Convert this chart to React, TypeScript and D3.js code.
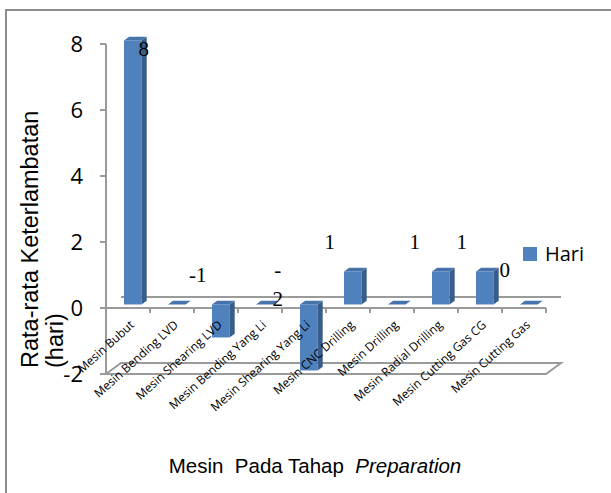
import React from "react";
import * as d3 from "d3";

// Average delay per machine in the preparation stage (days)
const categories = [
  "Mesin Bubut",
  "Mesin Bending LVD",
  "Mesin Shearing LVD",
  "Mesin Bending Yang Li",
  "Mesin Shearing Yang Li",
  "Mesin CNC Drilling",
  "Mesin Drilling",
  "Mesin Radial Drilling",
  "Mesin Cutting Gas CG",
  "Mesin Cutting Gas",
];
const values = [8, 0, -1, 0, -2, 1, 0, 1, 1, 0];
// Data labels: which bar each belongs to and its text lines
const labelBars = [0, 2, 4, 5, 7, 8, 9];
const labelTexts = [["8"], ["-1"], ["-", "2"], ["1"], ["1"], ["1"], ["0"]];
const yTicks = [-2, 0, 2, 4, 6, 8];
const seriesName = "Hari";

// Manual placement of each data label relative to its bar top
const labelNudge: [number, number][] = [
  [11, 16],
  [-23, -22],
  [-31, -27],
  [-23, -22],
  [-26, -22],
  [-23, -22],
  [-24, -27],
];

const W = 611;
const H = 493;
const DX = 15; // depth offset of the back plane
const DY = -11;
const D0 = 0.32; // bar front depth fraction
const D1 = 0.66; // bar back depth fraction

const FRONT = "#4F81BD";
const SIDE = "#385D8A";
const TOP = "#4673AB";
const GRID = "#9A9A9A";

export default function App() {
  const x = d3.scaleBand<string>().domain(categories).range([106, 546]).padding(0);
  const y = d3.scaleLinear().domain([-2, 8]).range([374, 44]);
  const bw = x.bandwidth() / 2.5;
  const yMin = y(-2);
  const y0 = y(0);
  const xL = x.range()[0];
  const xR = x.range()[1];

  const bars = values.map((v, i) => {
    const cx = x(categories[i])! + x.bandwidth() / 2;
    const l = cx - bw / 2 + D0 * DX;
    const r = cx + bw / 2 + D0 * DX;
    const fy = D0 * DY;
    const dx = (D1 - D0) * DX;
    const dy = (D1 - D0) * DY;
    const topY = y(Math.max(v, 0)) + fy;
    const botY = y(Math.min(v, 0)) + fy;
    return { l, r, topY, botY, dx, dy, cx: (l + r) / 2 };
  });

  return (
    <div style={{ position: "fixed", left: 0, top: 0 }}>
      <svg width={W} height={H} style={{ display: "block", background: "#fff" }}>
        <rect x={6} y={10} width={W + 20} height={H + 20} fill="#fff" stroke="#8C8C8C" strokeWidth={2} />

        {/* floor at the axis minimum */}
        <path
          d={`M${xL},${yMin} L${xR},${yMin} L${xR + DX},${yMin + DY} L${xL + DX},${yMin + DY} Z`}
          fill="none"
          stroke={GRID}
          strokeWidth={2}
        />
        {/* zero level, back and front */}
        <line x1={xL + DX} x2={xR + DX} y1={y0 + DY} y2={y0 + DY} stroke={GRID} strokeWidth={2} />
        <line x1={xL - 6} x2={xR} y1={y0} y2={y0} stroke={GRID} strokeWidth={2} />
        {x.domain().map((c) => (
          <line key={c} x1={x(c)! + x.bandwidth()} x2={x(c)! + x.bandwidth()} y1={y0} y2={y0 + 5} stroke={GRID} strokeWidth={2} />
        ))}

        {/* value axis */}
        <line x1={xL} x2={xL} y1={y(8)} y2={yMin} stroke={GRID} strokeWidth={2} />
        {yTicks.map((t) => (
          <g key={t}>
            <line x1={xL - 6} x2={xL} y1={y(t)} y2={y(t)} stroke={GRID} strokeWidth={2} />
            <text
              x={83}
              y={y(t) + 8}
              textAnchor="end"
              fontFamily="'Open Sans', sans-serif"
              fontSize={22}
              fill="#000"
            >
              {t}
            </text>
          </g>
        ))}

        {/* bars */}
        {bars.map((b, i) => (
          <g key={categories[i]}>
            <rect x={b.l} y={b.topY} width={b.r - b.l} height={Math.max(0, b.botY - b.topY)} fill={FRONT} />
            <path
              d={`M${b.r},${b.topY} L${b.r + b.dx},${b.topY + b.dy} L${b.r + b.dx},${b.botY + b.dy} L${b.r},${b.botY} Z`}
              fill={SIDE}
            />
            <path
              d={`M${b.l},${b.topY} L${b.r},${b.topY} L${b.r + b.dx},${b.topY + b.dy} L${b.l + b.dx},${b.topY + b.dy} Z`}
              fill={TOP}
            />
          </g>
        ))}

        {/* data labels */}
        {labelBars.map((bi, k) => {
          const b = bars[bi];
          const [nx, ny] = labelNudge[k];
          return (
            <text
              key={k}
              x={b.cx + nx}
              y={b.topY + ny}
              textAnchor="middle"
              fontFamily="'Liberation Serif', serif"
              fontSize={21}
              fill="#000"
            >
              {labelTexts[k].map((s, j) => (
                <tspan key={j} x={b.cx + nx} dy={j === 0 ? 0 : 29}>
                  {s}
                </tspan>
              ))}
            </text>
          );
        })}

        {/* category labels */}
        {categories.map((c) => {
          const px = x(c)! + x.bandwidth() / 2 + 7;
          const py = 326;
          return (
            <text
              key={c}
              transform={`translate(${px},${py}) rotate(-42)`}
              textAnchor="end"
              fontFamily="'Open Sans', sans-serif"
              fontSize={12}
              fill="#000"
            >
              {c}
            </text>
          );
        })}

        {/* axis titles */}
        <text
          transform="translate(38,368) rotate(-90)"
          fontFamily="'Liberation Sans', Arial, sans-serif"
          fontSize={23.5}
          fill="#000"
        >
          Rata-rata Keterlambatan
        </text>
        <text
          transform="translate(63,368) rotate(-90)"
          fontFamily="'Liberation Sans', Arial, sans-serif"
          fontSize={23.5}
          fill="#000"
        >
          (hari)
        </text>
        <text
          x={315}
          y={473}
          textAnchor="middle"
          fontFamily="'Liberation Sans', Arial, sans-serif"
          fontSize={20.5}
          fill="#000"
          style={{ whiteSpace: "pre" }}
        >
          {"Mesin  Pada Tahap  "}
          <tspan fontStyle="italic">Preparation</tspan>
        </text>

        {/* legend */}
        <rect x={523} y={247} width={14} height={14} fill={FRONT} />
        <text x={545} y={261} fontFamily="'Open Sans', sans-serif" fontSize={20} fill="#000">
          {seriesName}
        </text>
      </svg>
    </div>
  );
}
